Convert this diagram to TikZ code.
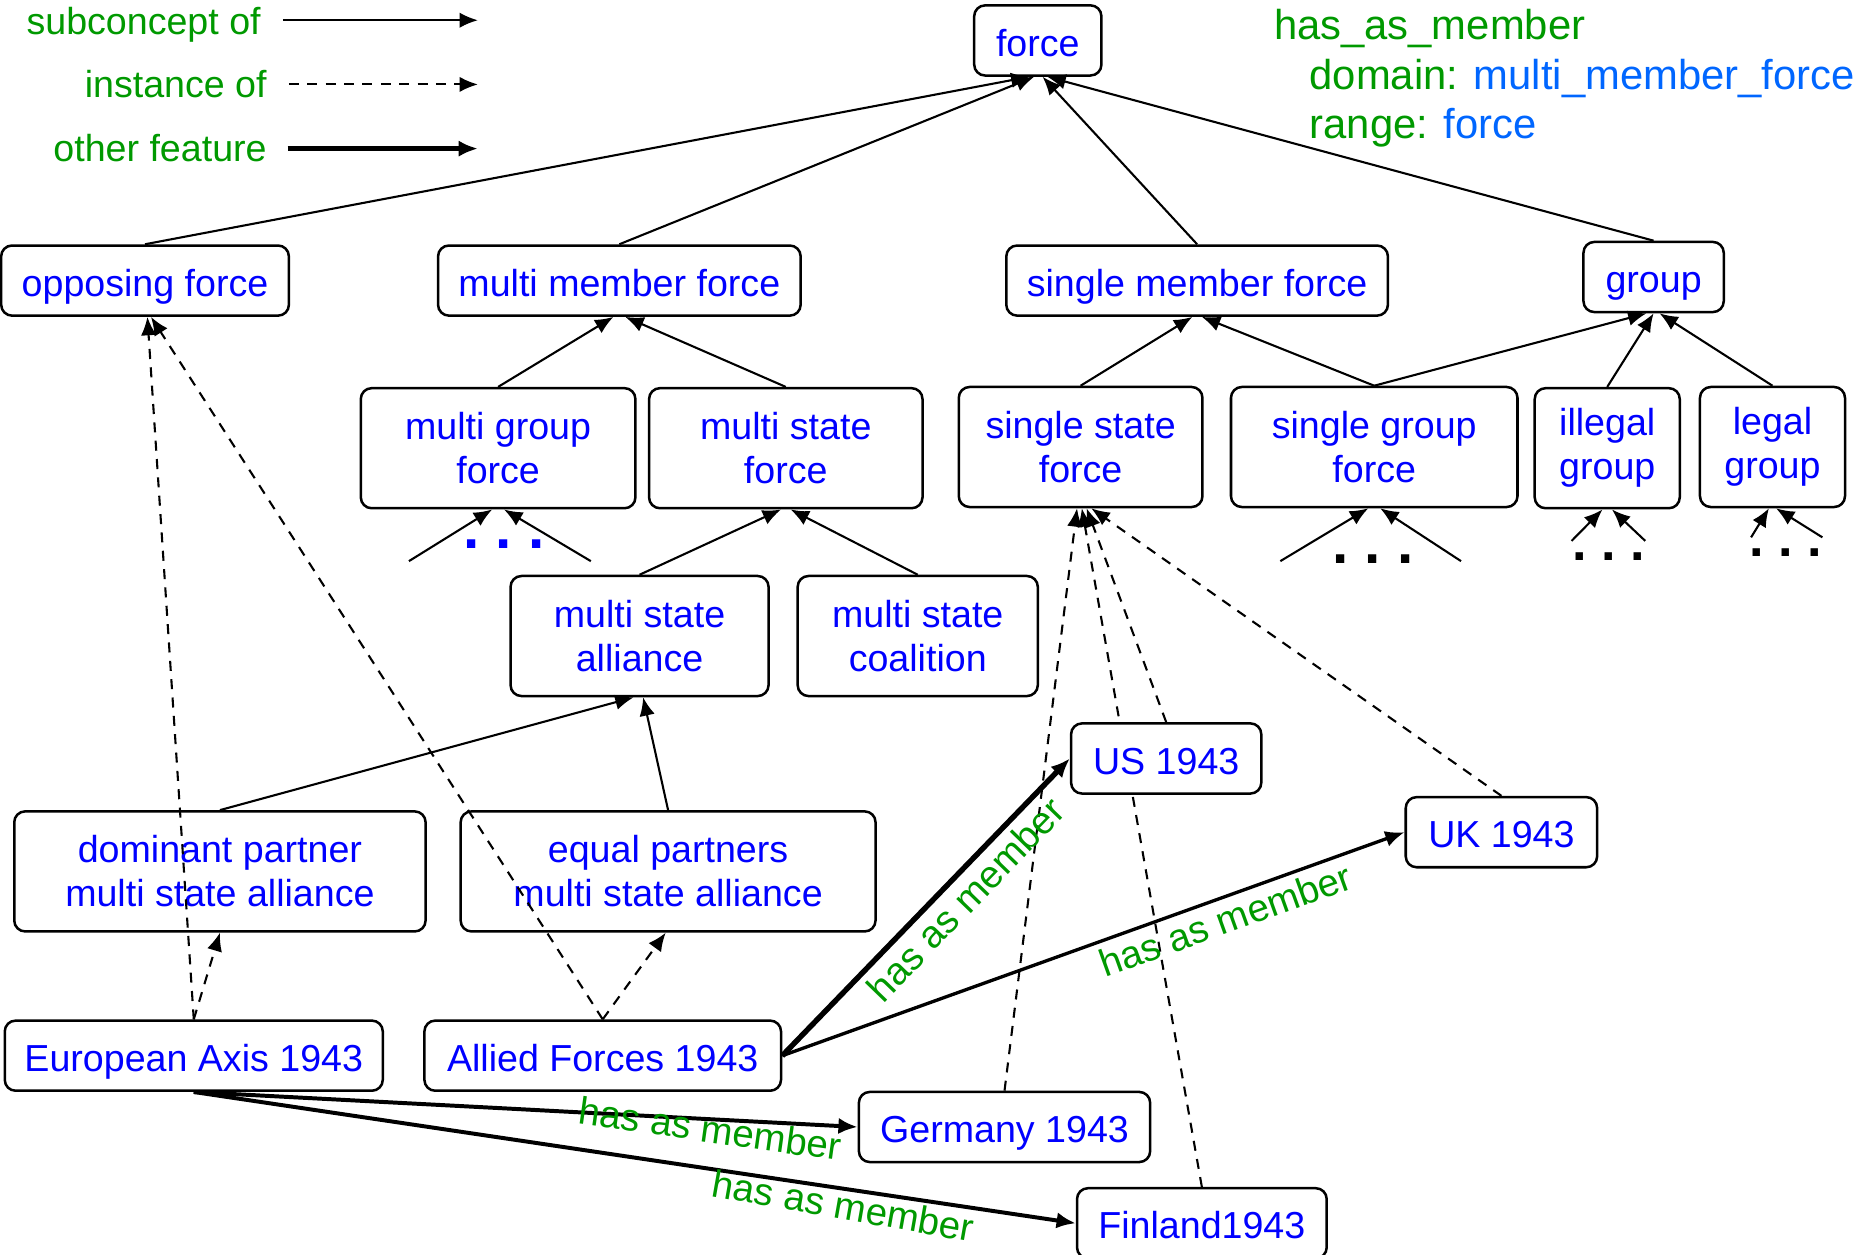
\documentclass[tikz,border=0pt]{standalone}
\usepackage{fontspec}
\setmainfont{Liberation Sans}
\usepackage{tikz}
\usepackage{xcolor}
\usetikzlibrary{arrows.meta}

\definecolor{conceptblue}{RGB}{0,0,255}
\definecolor{featgreen}{RGB}{0,153,0}
\definecolor{rangeblue}{RGB}{0,102,255}

\begin{document}
\begin{tikzpicture}[
  concept/.style={rectangle, draw, rounded corners=2.6pt, line width=0.6pt, text=conceptblue, align=center, inner sep=0pt, font=\fontsize{9}{10.5}\selectfont},
  onebox/.style={concept, minimum height=0.59cm, text height=0.95em, text depth=0.2em},
  twobox/.style={concept, minimum height=1.01cm},
  subof/.style={-{Latex[length=4.4pt,width=3.7pt]}, line width=0.5pt},
  instof/.style={subof, dash pattern=on 2.4pt off 2pt},
  feature/.style={-{Latex[length=4.6pt,width=3.9pt]}, line width=0.95pt},
  featlabel/.style={text=featgreen, font=\fontsize{9.2}{11}\selectfont, inner sep=1.5pt},
  legendtxt/.style={text=featgreen, inner sep=0pt, font=\fontsize{9}{10.5}\selectfont, text height=0.75em, text depth=0.2em},
  moredots/.style={inner sep=0pt, font=\bfseries\fontsize{14}{14}\selectfont}
]
\useasboundingbox (0,0) rectangle (15.68,-10.55);

% Legend
\node[legendtxt, anchor=east] (subtxt) at (2.20,-0.19) {subconcept of};
\node[legendtxt, anchor=east] (insttxt) at (2.25,-0.72) {instance of};
\node[legendtxt, anchor=east] (feattxt) at (2.25,-1.26) {other feature};
\coordinate (subend) at (4.02,-0.17);
\coordinate (instend) at (4.02,-0.71);
\coordinate (featend) at (4.02,-1.25);
\draw[subof, shorten <=0.18cm] (subtxt.east |- subend) -- (subend);
\draw[instof, shorten <=0.18cm] (insttxt.east |- instend) -- (instend);
\draw[feature, line width=1.3pt, shorten <=0.17cm] (feattxt.east |- featend) -- (featend);

\node[anchor=north west, align=left, text=featgreen, inner sep=0pt, font=\fontsize{10}{11.9}\selectfont] (hasmember) at (10.71,-0.07)
  {has\_as\_member\\\hspace*{0.3cm}domain: \textcolor{rangeblue}{multi\_member\_force}\\\hspace*{0.3cm}range: \textcolor{rangeblue}{force}};

% Row 1
\node[onebox, minimum width=1.07cm] (force) at (8.73,-0.34) {force};

% Row 2
\node[onebox, minimum width=2.42cm] (opp) at (1.22,-2.36) {opposing force};
\node[onebox, minimum width=3.05cm] (mmf) at (5.21,-2.36) {multi member force};
\node[onebox, minimum width=3.21cm] (smf) at (10.07,-2.36) {single member force};
\node[onebox, minimum width=1.18cm] (grp) at (13.91,-2.33) {group};

% Row 3
\node[twobox, minimum width=2.31cm] (mgf) at (4.19,-3.77) {multi group\\force};
\node[twobox, minimum width=2.30cm] (msf) at (6.61,-3.77) {multi state\\force};
\node[twobox, minimum width=2.05cm] (ssf) at (9.09,-3.76) {single state\\force};
\node[twobox, minimum width=2.41cm] (sgf) at (11.56,-3.76) {single group\\force};
\node[twobox, minimum width=1.22cm] (ilg) at (13.52,-3.77) {illegal\\group};
\node[twobox, minimum width=1.22cm] (lgg) at (14.91,-3.76) {legal\\group};

% Row 4
\node[twobox, minimum width=2.17cm] (msa) at (5.38,-5.35) {multi state\\alliance};
\node[twobox, minimum width=2.02cm] (msc) at (7.72,-5.35) {multi state\\coalition};

% Row 5
\node[twobox, minimum width=3.46cm] (dom) at (1.85,-7.33) {dominant partner\\multi state alliance};
\node[twobox, minimum width=3.49cm] (eq) at (5.62,-7.33) {equal partners\\multi state alliance};

% Instances
\node[onebox, minimum width=1.61cm] (uk) at (12.63,-7.00) {UK 1943};
\node[onebox, minimum width=3.18cm] (axis) at (1.63,-8.88) {European Axis 1943};
\node[onebox, minimum width=3.00cm] (allied) at (5.07,-8.88) {Allied Forces 1943};
\node[onebox, minimum width=2.45cm] (ger) at (8.45,-9.48) {Germany 1943};
\node[onebox, minimum width=2.10cm] (fin) at (10.11,-10.29) {Finland1943};

% Further subconcepts
\node[moredots, text=conceptblue] (mgdots) at (4.24,-4.58) {.\ .\ .};
\node[moredots] (sgdots) at (11.55,-4.70) {.\ .\ .};
\node[moredots, font=\bfseries\fontsize{12.5}{12.5}\selectfont] (ildots) at (13.53,-4.68) {.\ .\ .};
\node[moredots, font=\bfseries\fontsize{12.5}{12.5}\selectfont] (lgdots) at (15.02,-4.65) {.\ .\ .};
\coordinate (mg1) at (3.44,-4.72);
\coordinate (mg2) at (4.97,-4.72);
\coordinate (sg1) at (10.77,-4.72);
\coordinate (sg2) at (12.29,-4.72);
\coordinate (il1) at (13.22,-4.55);
\coordinate (il2) at (13.84,-4.55);
\coordinate (lg1) at (14.73,-4.52);
\coordinate (lg2) at (15.33,-4.52);

% subconcept of
\draw[subof] (opp.north) -- ([xshift=-0.07cm]force.south);
\draw[subof] (mmf.north) -- ([xshift=-0.03cm]force.south);
\draw[subof] (smf.north) -- ([xshift=0.04cm]force.south);
\draw[subof] (grp.north) -- ([xshift=0.08cm]force.south);
\draw[subof] (mgf.north) -- ([xshift=-0.05cm]mmf.south);
\draw[subof] (msf.north) -- ([xshift=0.05cm]mmf.south);
\draw[subof] (ssf.north) -- ([xshift=-0.04cm]smf.south);
\draw[subof] (sgf.north) -- ([xshift=0.04cm]smf.south);
\draw[subof] (sgf.north) -- ([xshift=-0.06cm]grp.south);
\draw[subof] (ilg.north) -- (grp.south);
\draw[subof] (lgg.north) -- ([xshift=0.05cm]grp.south);
\draw[subof] (msa.north) -- ([xshift=-0.04cm]msf.south);
\draw[subof] (msc.north) -- ([xshift=0.04cm]msf.south);
\draw[subof] (dom.north) -- ([xshift=-0.05cm]msa.south);
\draw[subof] (eq.north) -- ([xshift=0.03cm]msa.south);
\draw[subof] (mg1) -- ([xshift=-0.05cm]mgf.south);
\draw[subof] (mg2) -- ([xshift=0.05cm]mgf.south);
\draw[subof] (sg1) -- ([xshift=-0.05cm]sgf.south);
\draw[subof] (sg2) -- ([xshift=0.05cm]sgf.south);
\draw[subof] (il1) -- ([xshift=-0.04cm]ilg.south);
\draw[subof] (il2) -- ([xshift=0.04cm]ilg.south);
\draw[subof] (lg1) -- ([xshift=-0.03cm]lgg.south);
\draw[subof] (lg2) -- ([xshift=0.03cm]lgg.south);

% instance of
\draw[instof] (axis.north) -- ([xshift=0.02cm]opp.south);
\draw[instof] (allied.north) -- ([xshift=0.05cm]opp.south);
\draw[instof] (axis.north) -- (dom.south);
\draw[instof] (allied.north) -- ([xshift=-0.02cm]eq.south);
\draw[instof] (ger.north) -- ([xshift=-0.03cm]ssf.south);
\draw[instof] (fin.north) -- ([xshift=0.01cm]ssf.south);

% US box goes over the Finland line
\node[onebox, minimum width=1.60cm, fill=white] (us) at (9.81,-6.38) {US 1943};
\draw[instof] (us.north) -- ([xshift=0.05cm]ssf.south);
\draw[instof] (uk.north) -- ([xshift=0.09cm]ssf.south);

% other feature
\draw[feature, line width=1.3pt] (allied.east) -- (us.west)
  node[featlabel, pos=0.58, sloped, below] {has as member};
\draw[feature, line width=0.8pt] (allied.east) -- (uk.west)
  node[featlabel, pos=0.70, sloped, below] {has as member};
\draw[feature] (axis.south) -- (ger.west)
  node[featlabel, pos=0.78, rotate=-8, yshift=-0.08cm] {has as member};
\draw[feature] (axis.south) -- (fin.west)
  node[featlabel, pos=0.74, rotate=-10, yshift=-0.14cm] {has as member};

\end{tikzpicture}
\end{document}
